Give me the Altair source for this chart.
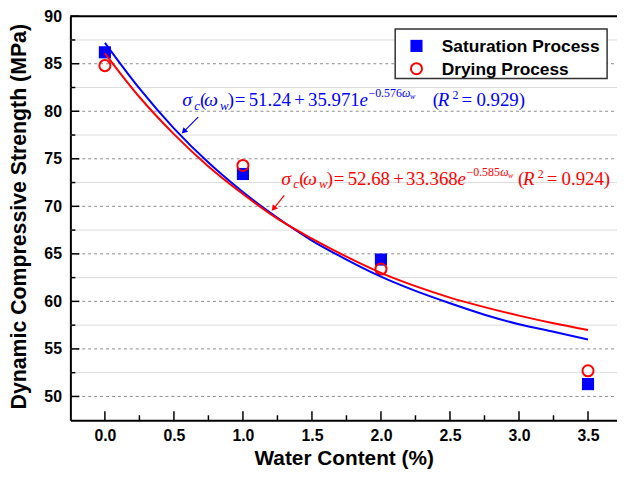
import altair as alt
import pandas as pd

# ---------------- data ----------------
x_points = [0.0, 1.0, 2.0, 3.5]
saturation = [86.2, 73.4, 64.4, 51.3]
drying = [84.8, 74.3, 63.4, 52.7]

curve_x = [0.0, 0.25, 0.5, 0.75, 1.0, 1.25, 1.5, 1.75, 2.0, 2.25, 2.5, 2.75, 3.0, 3.25, 3.5]
saturation_fit = [87.2, 82.4, 78.2, 74.6, 71.5, 68.8, 66.4, 64.4, 62.6, 61.1, 59.8, 58.6, 57.6, 56.8, 56.0]
drying_fit = [86.1, 81.5, 77.6, 74.2, 71.3, 68.7, 66.6, 64.7, 63.0, 61.6, 60.4, 59.4, 58.5, 57.7, 57.0]

x_ticks = [0.0, 0.5, 1.0, 1.5, 2.0, 2.5, 3.0, 3.5]
x_minor = [0.25, 0.75, 1.25, 1.75, 2.25, 2.75, 3.25]
y_ticks = [50, 55, 60, 65, 70, 75, 80, 85, 90]
y_minor = [52.5, 57.5, 62.5, 67.5, 72.5, 77.5, 82.5, 87.5]

series = ["Saturation Process", "Drying Process"]
x_title = "Water Content (%)"
y_title = "Dynamic Compressive Strength (MPa)"

# ---------------- styling / layout ----------------
BLUE = "#0000FF"
RED = "#FF0000"
W, H = 552, 408
PAD_L, PAD_T, PAD_B = 63, 6, 48
RX, RY = 71, 16          # reference page position of the plot origin (annotation anchor)
SANS = "Liberation Sans"
SERIF = "Liberation Serif"

xs = alt.Scale(domain=[-0.25, 3.71], nice=False, zero=False)
ys = alt.Scale(domain=[47.5, 90], nice=False, zero=False)

x_axis = alt.Axis(values=x_ticks, format=".1f", title=x_title, grid=False,
                  ticks=False, tickSize=0, labelPadding=7,
                  labelFont=SANS, labelFontWeight="bold", labelFontSize=16, labelColor="black",
                  domainColor="black", domainWidth=2,
                  titleFont=SANS, titleFontWeight="bold", titleFontSize=21, titleColor="black",
                  titleBaseline="alphabetic", titleY=45)
y_axis = alt.Axis(values=y_ticks, format="d", title=y_title, grid=False,
                  ticks=False, tickSize=0, labelPadding=9,
                  labelFont=SANS, labelFontWeight="bold", labelFontSize=16, labelColor="black",
                  domainColor="black", domainWidth=2,
                  titleFont=SANS, titleFontWeight="bold", titleFontSize=21.5, titleColor="black",
                  titleBaseline="alphabetic", titleX=-45, titleY=202, titleAngle=270)


def X(field="x"):
    return alt.X(f"{field}:Q", scale=xs, axis=x_axis)


def Y(field="y"):
    return alt.Y(f"{field}:Q", scale=ys, axis=y_axis)


layers = []

# grid lines
major_grid = pd.DataFrame({"y": [v for v in y_ticks if v < 90]})
minor_grid = pd.DataFrame({"y": y_minor})
layers.append(alt.Chart(minor_grid).mark_rule(color="#dcdcdc", strokeWidth=1).encode(
    y=Y(), x=alt.value(0), x2=alt.value(W)))
layers.append(alt.Chart(major_grid).mark_rule(color="#8c8c8c", strokeWidth=1, strokeDash=[3, 3]).encode(
    y=Y(), x=alt.value(0), x2=alt.value(W)))

# top frame
layers.append(alt.Chart(pd.DataFrame({"y": [90]})).mark_rule(color="black", strokeWidth=2).encode(
    y=Y(), x=alt.value(0), x2=alt.value(W)))

# inward ticks
layers.append(alt.Chart(pd.DataFrame({"x": x_ticks})).mark_rule(color="black", strokeWidth=1.5).encode(
    x=X(), y=alt.value(H - 9), y2=alt.value(H)))
layers.append(alt.Chart(pd.DataFrame({"x": x_minor})).mark_rule(color="black", strokeWidth=1.5).encode(
    x=X(), y=alt.value(H - 5), y2=alt.value(H)))
layers.append(alt.Chart(pd.DataFrame({"y": y_ticks})).mark_rule(color="black", strokeWidth=1.5).encode(
    y=Y(), x=alt.value(0), x2=alt.value(9)))
layers.append(alt.Chart(pd.DataFrame({"y": y_minor})).mark_rule(color="black", strokeWidth=1.5).encode(
    y=Y(), x=alt.value(0), x2=alt.value(5)))

# scatter points
sat_df = pd.DataFrame({"x": x_points, "y": saturation})
dry_df = pd.DataFrame({"x": x_points, "y": drying})
layers.append(alt.Chart(sat_df).mark_square(color=BLUE, size=150, opacity=1).encode(x=X(), y=Y()))
layers.append(alt.Chart(dry_df).mark_point(shape="circle", color=RED, size=125, strokeWidth=2,
                                           filled=False, opacity=1).encode(x=X(), y=Y()))

# fitted curves
sat_fit_df = pd.DataFrame({"x": curve_x, "y": saturation_fit})
dry_fit_df = pd.DataFrame({"x": curve_x, "y": drying_fit})
layers.append(alt.Chart(sat_fit_df).mark_line(color=BLUE, strokeWidth=2, interpolate="monotone").encode(
    x=X(), y=Y()))
layers.append(alt.Chart(dry_fit_df).mark_line(color=RED, strokeWidth=2, interpolate="monotone").encode(
    x=X(), y=Y()))

dummy = pd.DataFrame({"d": [0]})

# legend box
layers.append(alt.Chart(dummy).mark_rect(fill="white", stroke="#333333", strokeWidth=1.5).encode(
    x=alt.value(399 - RX), x2=alt.value(613 - RX), y=alt.value(29 - RY), y2=alt.value(79 - RY)))
layers.append(alt.Chart(dummy).mark_square(color=BLUE, size=150, opacity=1).encode(
    x=alt.value(420.5 - RX), y=alt.value(46 - RY)))
layers.append(alt.Chart(dummy).mark_point(shape="circle", color=RED, size=125, strokeWidth=2,
                                          filled=False, opacity=1).encode(
    x=alt.value(420.5 - RX), y=alt.value(69 - RY)))
for label, base in zip(series, [52.5, 75]):
    layers.append(alt.Chart(dummy).mark_text(text=label, font=SANS, fontWeight="bold", fontSize=17.5,
                                             color="black", align="left", baseline="alphabetic").encode(
        x=alt.value(446 - RX), y=alt.value(base - RY)))

# equations: (text, page x, baseline y, size, italic)
blue_eq = [
    ("σ", 184, 107, 20, True), ("c", 196, 111, 13, True), ("(", 202, 107, 19, False),
    ("ω", 206, 107, 20, True), ("w", 222, 111, 13, True), (")", 230, 107, 19, False),
    ("=", 237, 107, 19, False), ("51.24", 251, 107, 19, False), ("+", 297, 107, 19, False),
    ("35.971", 311, 107, 19, False), ("e", 363, 107, 19, True), ("−0.576", 372, 98, 12, False),
    ("ω", 406, 98, 12, True), ("w", 414, 100, 8, True),
    ("(", 437, 107, 19, False), ("R", 442, 107, 19, True), ("2", 457, 100, 12, False),
    ("=", 466, 107, 19, False), ("0.929)", 481, 107, 19, False),
]
red_eq = [
    ("σ", 284, 186, 20, True), ("c", 296, 190, 13, True), ("(", 302, 186, 19, False),
    ("ω", 306, 186, 20, True), ("w", 322, 190, 13, True), (")", 330, 186, 19, False),
    ("=", 337, 186, 19, False), ("52.68", 351, 186, 19, False), ("+", 397, 186, 19, False),
    ("33.368", 410, 186, 19, False), ("e", 462, 186, 19, True), ("−0.585", 471, 177, 12, False),
    ("ω", 505, 177, 12, True), ("w", 513, 179, 8, True),
    ("(", 523, 186, 19, False), ("R", 528, 186, 19, True), ("2", 543, 179, 12, False),
    ("=", 552, 186, 19, False), ("0.924)", 567, 186, 19, False),
]
for pieces, col in [(blue_eq, BLUE), (red_eq, RED)]:
    for txt, px, py, fs, it in pieces:
        layers.append(alt.Chart(dummy).mark_text(
            text=txt, font=SERIF, fontSize=fs, fontStyle="italic" if it else "normal",
            color=col, align="left", baseline="alphabetic").encode(
            x=alt.value(px - RX), y=alt.value(py - RY)))

# arrows
for (x1, y1, x2, y2, hx, hy, ang, col) in [
    (200, 118, 186, 132, 185.5, 132.5, 225, BLUE),
    (287, 197, 276.5, 210, 276.2, 210.3, 219, RED),
]:
    layers.append(alt.Chart(dummy).mark_rule(color=col, strokeWidth=1.2).encode(
        x=alt.value(x1 - RX), y=alt.value(y1 - RY), x2=alt.value(x2 - RX), y2=alt.value(y2 - RY)))
    layers.append(alt.Chart(dummy).mark_point(shape="triangle-up", size=45, filled=True, color=col,
                                              opacity=1, angle=ang).encode(
        x=alt.value(hx - RX), y=alt.value(hy - RY)))

chart = alt.layer(*layers).properties(
    width=W, height=H,
    padding={"left": PAD_L, "top": PAD_T, "right": 0, "bottom": PAD_B},
    autosize=alt.AutoSizeParams(type="none"),
).configure_view(stroke=None).configure(background="white")

chart.save("out.html", embed_options={"renderer": "svg", "actions": False})
